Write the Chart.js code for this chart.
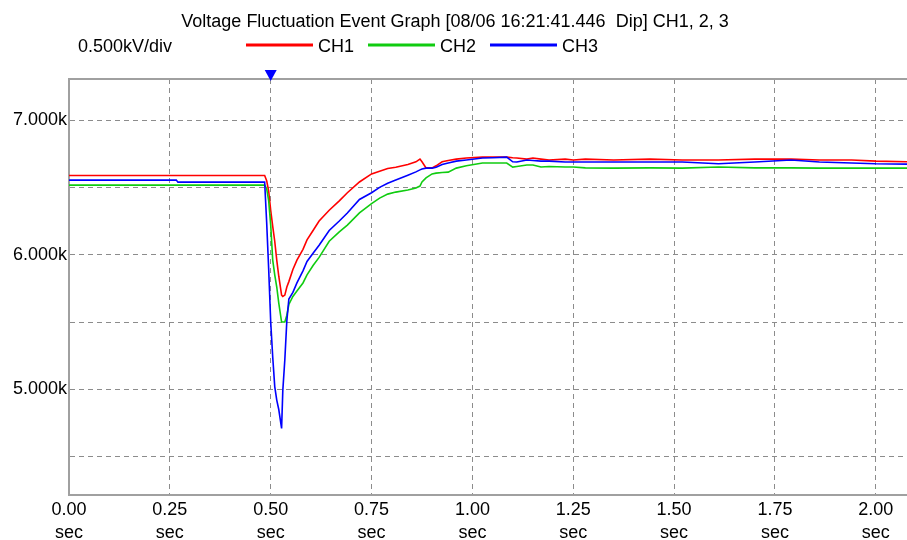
<!DOCTYPE html>
<html><head><meta charset="utf-8">
<script src="https://cdn.jsdelivr.net/npm/chart.js@4.4.0/dist/chart.umd.min.js"></script>
<style>html,body{margin:0;padding:0;background:#fff;overflow:hidden}canvas{display:block}</style>
</head><body>
<canvas id="c" width="907" height="540"></canvas>
<script>
const TITLE = 'Voltage Fluctuation Event Graph [08/06 16:21:41.446  Dip] CH1, 2, 3';
const SCALE_LABEL = '0.500kV/div';
const TRIGGER_TIME = 0.5;
const seriesNames = ['CH1', 'CH2', 'CH3'];
const seriesColors = ['#ff0000', '#10cc10', '#0000ff'];
const xTickValues = [0, 0.25, 0.5, 0.75, 1.0, 1.25, 1.5, 1.75, 2.0];
const yTickValues = [4.5, 5.0, 5.5, 6.0, 6.5, 7.0];

// time axis (sec)
const times = [0, 0.266, 0.27, 0.485, 0.49, 0.495, 0.50, 0.505, 0.51, 0.515, 0.52, 0.527, 0.53, 0.535, 0.54, 0.545, 0.555, 0.565, 0.58, 0.59, 0.605, 0.62, 0.645, 0.67, 0.69, 0.72, 0.75, 0.77, 0.79, 0.81, 0.84, 0.86, 0.87, 0.875, 0.885, 0.90, 0.91, 0.925, 0.94, 0.96, 0.985, 1.025, 1.05, 1.085, 1.10, 1.11, 1.135, 1.15, 1.17, 1.19, 1.23, 1.25, 1.28, 1.35, 1.44, 1.52, 1.61, 1.70, 1.79, 1.86, 1.94, 2.00, 2.08];

// kV values
const ch1 = [6.588, 6.588, 6.588, 6.588, 6.55, 6.47, 6.33, 6.21, 6.10, 5.96, 5.84, 5.70, 5.69, 5.70, 5.76, 5.80, 5.89, 5.96, 6.04, 6.11, 6.18, 6.25, 6.33, 6.40, 6.46, 6.54, 6.60, 6.62, 6.64, 6.65, 6.67, 6.69, 6.71, 6.69, 6.645, 6.645, 6.66, 6.69, 6.70, 6.71, 6.718, 6.725, 6.725, 6.725, 6.72, 6.718, 6.71, 6.718, 6.71, 6.703, 6.71, 6.703, 6.71, 6.703, 6.71, 6.703, 6.703, 6.71, 6.71, 6.703, 6.703, 6.695, 6.69];
const ch2 = [6.517, 6.517, 6.517, 6.517, 6.49, 6.40, 6.22, 5.96, 5.85, 5.76, 5.64, 5.50, 5.50, 5.50, 5.55, 5.63, 5.69, 5.73, 5.79, 5.85, 5.92, 5.98, 6.10, 6.17, 6.22, 6.31, 6.38, 6.42, 6.45, 6.465, 6.48, 6.495, 6.51, 6.54, 6.57, 6.60, 6.606, 6.61, 6.613, 6.643, 6.66, 6.681, 6.681, 6.681, 6.651, 6.655, 6.666, 6.666, 6.651, 6.655, 6.651, 6.651, 6.645, 6.643, 6.645, 6.643, 6.651, 6.645, 6.645, 6.643, 6.643, 6.643, 6.643];
const ch3 = [6.554, 6.554, 6.539, 6.539, 6.24, 5.89, 5.50, 5.24, 5.02, 4.92, 4.85, 4.71, 4.99, 5.22, 5.51, 5.67, 5.72, 5.79, 5.88, 5.95, 6.01, 6.07, 6.18, 6.25, 6.31, 6.41, 6.46, 6.50, 6.53, 6.554, 6.59, 6.615, 6.63, 6.636, 6.643, 6.643, 6.65, 6.67, 6.681, 6.695, 6.703, 6.718, 6.72, 6.725, 6.69, 6.688, 6.703, 6.70, 6.695, 6.695, 6.688, 6.688, 6.688, 6.688, 6.688, 6.688, 6.675, 6.688, 6.703, 6.688, 6.681, 6.675, 6.673];

const FONT = '"Liberation Sans", Arial, sans-serif';
const GRID = '#8c8c8c';

const series = [ch1, ch2, ch3];
const datasets = series.map((vals, i) => ({
  label: seriesNames[i],
  data: times.map((t, k) => ({x: t, y: vals[k]})),
  borderColor: seriesColors[i],
  backgroundColor: seriesColors[i],
  borderWidth: 1.6,
  pointRadius: 0,
  tension: 0,
  fill: false,
  order: 3 - i
}));

const overlay = {
  id: 'overlay',
  afterDraw(chart) {
    const {ctx, chartArea: a, scales: {x}} = chart;
    ctx.save();
    ctx.strokeStyle = '#a0a0a0'; ctx.lineWidth = 2;
    ctx.beginPath(); ctx.moveTo(a.left - 1, a.top); ctx.lineTo(a.right, a.top); ctx.stroke();
    ctx.fillStyle = '#000';
    ctx.font = '18px ' + FONT;
    ctx.textBaseline = 'alphabetic';
    ctx.textAlign = 'center';
    ctx.fillText(TITLE, 455, 27);
    ctx.textAlign = 'left';
    ctx.fillText(SCALE_LABEL, 78, 52);
    chart.data.datasets.forEach((ds, i) => {
      const lx = 246 + i * 122;
      ctx.strokeStyle = ds.borderColor; ctx.lineWidth = 3;
      ctx.beginPath(); ctx.moveTo(lx, 45); ctx.lineTo(lx + 67, 45); ctx.stroke();
      ctx.fillStyle = '#000';
      ctx.fillText(ds.label, lx + 72, 52);
    });
    const tx = x.getPixelForValue(TRIGGER_TIME);
    ctx.fillStyle = '#0000ff';
    ctx.beginPath(); ctx.moveTo(tx - 6, 70); ctx.lineTo(tx + 6, 70); ctx.lineTo(tx, 81); ctx.closePath(); ctx.fill();
    ctx.restore();
  }
};

new Chart(document.getElementById('c'), {
  type: 'line',
  data: {datasets},
  options: {
    responsive: false,
    animation: false,
    devicePixelRatio: 1,
    layout: {padding: {top: 79, left: 0, right: 0, bottom: 0}},
    plugins: {legend: {display: false}, title: {display: false}, tooltip: {enabled: false}},
    scales: {
      x: {
        type: 'linear', min: 0, max: 2.0773,
        afterFit(s) { s.height = 45; },
        afterBuildTicks(s) { s.ticks = xTickValues.map(v => ({value: v})); },
        ticks: {autoSkip: false, maxRotation: 0, padding: 3, color: '#000',
          font: {family: FONT, size: 18, lineHeight: 1.3},
          callback: v => [Number(v).toFixed(2), 'sec']},
        grid: {color: GRID, lineWidth: 1, drawTicks: false},
        border: {display: true, color: '#a0a0a0', width: 2, dash: [5, 4]}
      },
      y: {
        type: 'linear', min: 4.215, max: 7.305,
        afterFit(s) { s.width = 69; },
        afterBuildTicks(s) { s.ticks = yTickValues.map(v => ({value: v})); },
        ticks: {padding: 2, color: '#000', font: {family: FONT, size: 18},
          callback: v => Math.abs(v - Math.round(v)) < 1e-6 ? Number(v).toFixed(3) + 'k' : ''},
        grid: {color: GRID, lineWidth: 1, drawTicks: false},
        border: {display: true, color: '#a0a0a0', width: 2, dash: [5, 4]}
      }
    }
  },
  plugins: [overlay]
});
</script>
</body></html>
